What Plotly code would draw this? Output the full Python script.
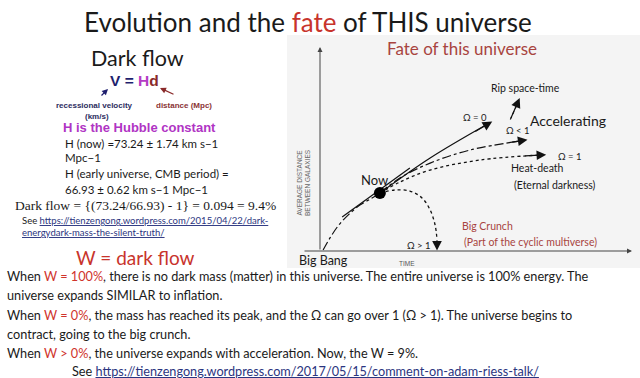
import plotly.graph_objects as go

# ---------------- data (diagram units: time 0-10, distance 0-10) ----------------
bang_t = [0.10, 0.32, 0.58, 0.90, 1.28, 1.67, 1.92]
bang_d = [0.05, 0.64, 1.23, 1.76, 2.25, 2.60, 2.84]
now_t = [1.92]
now_d = [2.84]
tangent_t = [0.71, 2.88]
tangent_d = [1.67, 4.07]
omega0_t = [1.92, 3.53, 5.40]
omega0_d = [2.84, 4.56, 6.25]
omega_lt1_t = [1.92, 2.56, 3.53, 4.81, 6.45]
omega_lt1_d = [2.84, 3.58, 4.31, 4.95, 5.40]
omega1_t = [1.92, 2.56, 3.53, 5.13, 7.00]
omega1_d = [2.84, 3.38, 3.97, 4.46, 4.70]
omega_gt1_t = [1.92, 2.40, 2.88, 3.27, 3.53, 3.69, 3.75]
omega_gt1_d = [2.84, 2.99, 2.94, 2.60, 2.01, 1.27, 0.55]
rip_t = [6.10, 6.35]
rip_d = [6.45, 7.30]

bottom_lines = [
    "When <span style='color:#d0342c'>W = 100%</span>, there is no dark mass (matter) in this universe. The entire universe is 100% energy. The",
    "universe expands SIMILAR to inflation.",
    "When <span style='color:#d0342c'>W = 0%</span>, the mass has reached its peak, and the Ω can go over 1 (Ω > 1). The universe begins to",
    "contract, going to the big crunch.",
    "When <span style='color:#d0342c'>W > 0%</span>, the universe expands with acceleration. Now, the W = 9%.",
]
hubble_lines = [
    "H (now) =73.24 ± 1.74 km s−1",
    "Mpc−1",
    "H (early universe, CMB period) =",
    "66.93 ± 0.62 km s−1 Mpc−1",
]

W, H = 640, 378
SANS = "Lato"
ARIAL = "Liberation Sans"
SERIF = "Liberation Serif"
INK = "#1a1a1a"
RED = "#c8342c"
BROWN_RED = "#a8443f"


def px(x, y):
    return x / W, 1 - y / H


# diagram axes placement in pixels
X0, X1, Y0, Y1 = 320, 632, 251, 47


def dt(x):
    return (x - X0) / (X1 - X0) * 10


fig = go.Figure()

line_kw = dict(color="#111111", width=1.2)
fig.add_trace(go.Scatter(x=bang_t, y=bang_d, mode="lines", line=dict(**line_kw, dash="dashdot", shape="spline")))
fig.add_trace(go.Scatter(x=tangent_t, y=tangent_d, mode="lines", line=dict(**line_kw)))
fig.add_trace(go.Scatter(x=omega0_t, y=omega0_d, mode="lines", line=dict(**line_kw, shape="spline")))
fig.add_trace(go.Scatter(x=omega_lt1_t, y=omega_lt1_d, mode="lines", line=dict(**line_kw, dash="dashdot", shape="spline")))
fig.add_trace(go.Scatter(x=omega1_t, y=omega1_d, mode="lines", line=dict(color="#111111", width=1.3, dash="dot", shape="spline")))
fig.add_trace(go.Scatter(x=omega_gt1_t, y=omega_gt1_d, mode="lines", line=dict(color="#111111", width=1.3, dash="dot", shape="spline")))
fig.add_trace(go.Scatter(x=rip_t, y=rip_d, mode="lines", line=dict(**line_kw, dash="dot")))
fig.add_trace(go.Scatter(x=now_t, y=now_d, mode="markers", marker=dict(size=12, color="#000000")))

ann = []


def arrow(tip_x, tip_y, tail_x, tail_y, size=1.6, width=1.2, color="#111111", head=2):
    ann.append(dict(x=tip_x, y=tip_y, ax=tail_x, ay=tail_y, xref="x", yref="y",
                    axref="x", ayref="y", text="", showarrow=True,
                    arrowhead=head, arrowsize=size, arrowwidth=width, arrowcolor=color))


def parrow(tip, tail, color):
    ann.append(dict(x=tip[0] / W, y=1 - tip[1] / H, ax=tail[0] - tip[0], ay=tail[1] - tip[1],
                    xref="paper", yref="paper", axref="pixel", ayref="pixel", text="",
                    showarrow=True, arrowhead=2, arrowsize=1, arrowwidth=1.2, arrowcolor=color))


# axes of the diagram
arrow(0, 10, 0, 0, size=1.0, width=1.0, color="#444444")
arrow(10, 0, dt(303), 0, size=1.0, width=1.0, color="#444444")
# branch arrowheads
arrow(omega0_t[-1] + 0.12, omega0_d[-1] + 0.1, omega0_t[-2] + 1.4, omega0_d[-2] + 1.25)
arrow(omega_lt1_t[-1] + 0.2, omega_lt1_d[-1] + 0.05, omega_lt1_t[-2] + 1.2, omega_lt1_d[-2] + 0.35)
arrow(omega1_t[-1] + 0.25, omega1_d[-1] + 0.02, omega1_t[-2] + 1.4, omega1_d[-2] + 0.2)
arrow(omega_gt1_t[-1], 0.02, omega_gt1_t[-1], 0.6)
arrow(rip_t[-1] + 0.05, rip_d[-1] + 0.2, rip_t[0], rip_d[0])


def ptext(x, y, text, size=12, color=INK, family=SANS, xanchor="center", **kw):
    xx, yy = px(x, y)
    ann.append(dict(x=xx, y=yy, xref="paper", yref="paper", text=text, showarrow=False,
                    xanchor=xanchor, yanchor="middle",
                    font=dict(size=size, color=color, family=family), **kw))


# diagram labels
ptext(462, 48, "Fate of this universe", 17, BROWN_RED)
ptext(525, 88, "Rip space-time", 10.5)
ptext(475, 117, "Ω = 0", 9.5)
ptext(568, 120, "Accelerating", 14)
ptext(518, 131, "Ω < 1", 9.5)
ptext(570, 156, "Ω = 1", 9.5)
ptext(537, 168, "Heat-death", 10.5)
ptext(555, 185, "(Eternal darkness)", 10.5)
ptext(374, 180, "Now", 13)
ptext(487, 226, "Big Crunch", 10.5, BROWN_RED)
ptext(530, 242, "(Part of the cyclic multiverse)", 10.5, BROWN_RED)
ptext(419, 245, "Ω > 1", 9.5)
ptext(323, 260, "Big Bang", 12.5)
ptext(407, 263, "TIME", 6.5, "#555555", ARIAL)
ptext(303, 183, "AVERAGE DISTANCE<br>BETWEEN GALAXIES", 6.5, "#666666", ARIAL, textangle=-90)

# slide texts
ptext(308, 22, "Evolution and the <span style='color:#c8342c'>fate</span> of THIS universe", 26)
ptext(137, 58, "Dark flow", 21.5)
ptext(134, 80, "<b><span style='color:#1f1f6e'>V =</span> <span style='color:#b43cc4'>H</span>"
               "<span style='color:#8a2a2a'>d</span></b>", 15.5, family=ARIAL)
parrow((108, 89), (100, 97), "#1f1f6e")
parrow((160, 88), (175, 95), "#8a2a2a")
ptext(94, 105, "<b>recessional velocity</b>", 8, "#2c2c5e", ARIAL)
ptext(97, 116, "<b>(km/s)</b>", 8, "#2c2c5e", ARIAL)
ptext(184, 105, "<b>distance (Mpc)</b>", 8, "#8a3434", ARIAL)
ptext(139, 127, "<b>H is the Hubble constant</b>", 13, "#b034c4", ARIAL)
for yy, txt in zip([143, 158, 174, 189], hubble_lines):
    ptext(63, yy, txt, 11.5, xanchor="left")
ptext(13, 205, "Dark flow = {(73.24/66.93) - 1} = 0.094 = 9.4%", 13.5, INK, SERIF, xanchor="left")
UL = "<span style='text-decoration:underline;fill:#2b3580'>"
ptext(20, 220, "See " + UL + "https://tienzengong.wordpress.com/2015/04/22/dark-</span>", 9.5, xanchor="left")
ptext(20, 232, UL + "energydark-mass-the-silent-truth/</span>", 9.5, xanchor="left")
ptext(135, 257, "W = dark flow", 19, RED)
for yy, txt in zip([276, 295, 315, 334, 353], bottom_lines):
    ptext(5, yy, txt, 12.7, xanchor="left")
ptext(70, 371, "See " + UL + "https://tienzengong.wordpress.com/2017/05/15/comment-on-adam-riess-talk/</span>",
      12.7, xanchor="left")

fig.update_layout(
    width=W, height=H,
    margin=dict(l=0, r=0, t=0, b=0),
    paper_bgcolor="white", plot_bgcolor="rgba(0,0,0,0)",
    showlegend=False,
    xaxis=dict(domain=[X0 / W, X1 / W], range=[0, 10], visible=False, fixedrange=True),
    yaxis=dict(domain=[1 - Y0 / H, 1 - Y1 / H], range=[0, 10], visible=False, fixedrange=True),
    annotations=ann,
    shapes=[dict(type="rect", xref="paper", yref="paper", x0=287 / W, x1=1, y0=1 - 268 / H, y1=1 - 35 / H,
                 fillcolor="#f4f4f4", line=dict(width=0), layer="below")],
)
fig.write_html("out.html", config={"displayModeBar": False},
               post_script="document.body.style.margin='0';document.body.style.overflow='hidden';")
